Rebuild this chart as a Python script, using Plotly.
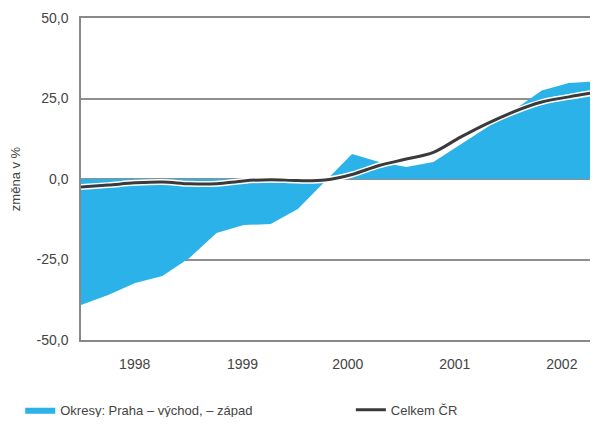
import plotly.graph_objects as go

quarters = [f"{y} Q{q}" for y in range(1998, 2003) for q in range(1, 5)]
okresy = [-39.1, -36.0, -32.3, -30.1, -24.5, -16.8, -14.3, -14.0, -9.3, -0.8,
          7.8, 5.3, 3.7, 5.3, 10.8, 16.3, 21.6, 27.5, 29.8, 30.3]
celkem = [-2.5, -1.9, -1.2, -0.9, -1.5, -1.5, -0.6, -0.2, -0.5, -0.3,
          1.4, 4.2, 6.2, 8.3, 13.0, 17.3, 21.0, 23.9, 25.5, 26.9]
year_labels = ["1998", "1999", "2000", "2001", "2002"]
y_ticks = [-50, -25, 0, 25, 50]
y_labels = ["-50,0", "-25,0", "0,0", "25,0", "50,0"]

x = list(range(len(quarters)))
FONT = "Liberation Sans, Arial, sans-serif"

fig = go.Figure()
fig.add_trace(go.Scatter(
    x=x, y=okresy, mode="lines", fill="tozeroy",
    fillcolor="#2BB2E8", line=dict(width=0, color="#2BB2E8"),
    name="Okresy: Praha – východ, – západ", text=quarters, legend="legend",
))
fig.add_trace(go.Scatter(
    x=x, y=celkem, mode="lines", line=dict(width=6, color="white", shape="spline"),
    showlegend=False, hoverinfo="skip",
))
fig.add_trace(go.Scatter(
    x=x, y=celkem, mode="lines", line=dict(width=3, color="#3a3a3a", shape="spline"),
    name="Celkem ČR", text=quarters, legend="legend2",
))

fig.update_layout(
    width=590, height=409,
    margin=dict(l=73, r=2, t=10, b=77, autoexpand=False),
    paper_bgcolor="white", plot_bgcolor="white",
    font=dict(family=FONT, size=12, color="#444"),
    legend=dict(orientation="h", x=-0.118, y=-0.217, xanchor="left", yanchor="middle",
                font=dict(size=13, color="#444"), bgcolor="rgba(0,0,0,0)"),
    legend2=dict(orientation="h", x=0.524, y=-0.217, xanchor="left", yanchor="middle",
                 font=dict(size=13, color="#444"), bgcolor="rgba(0,0,0,0)"),
)
fig.update_xaxes(
    range=[0, 19], showgrid=False, zeroline=False,
    tickmode="array", tickvals=[1.98, 5.96, 9.84, 13.79, 17.74], ticktext=year_labels,
    ticks="", ticklabelstandoff=10, automargin=False,
    showline=True, linecolor="#888", linewidth=1.5, mirror=True,
    tickfont=dict(size=14, color="#444"),
)
fig.update_yaxes(
    range=[-50, 50], tickmode="array", tickvals=y_ticks, ticktext=y_labels,
    showgrid=True, gridcolor="#8f8f8f", gridwidth=1.5, zeroline=False,
    showline=True, linecolor="#888", linewidth=1.5, mirror=True,
    ticks="", ticklabelstandoff=8, automargin=False,
    title=dict(text="změna v %", font=dict(size=13, color="#444"), standoff=14),
    tickfont=dict(size=14, color="#444"),
)

fig.write_html("out.html")
